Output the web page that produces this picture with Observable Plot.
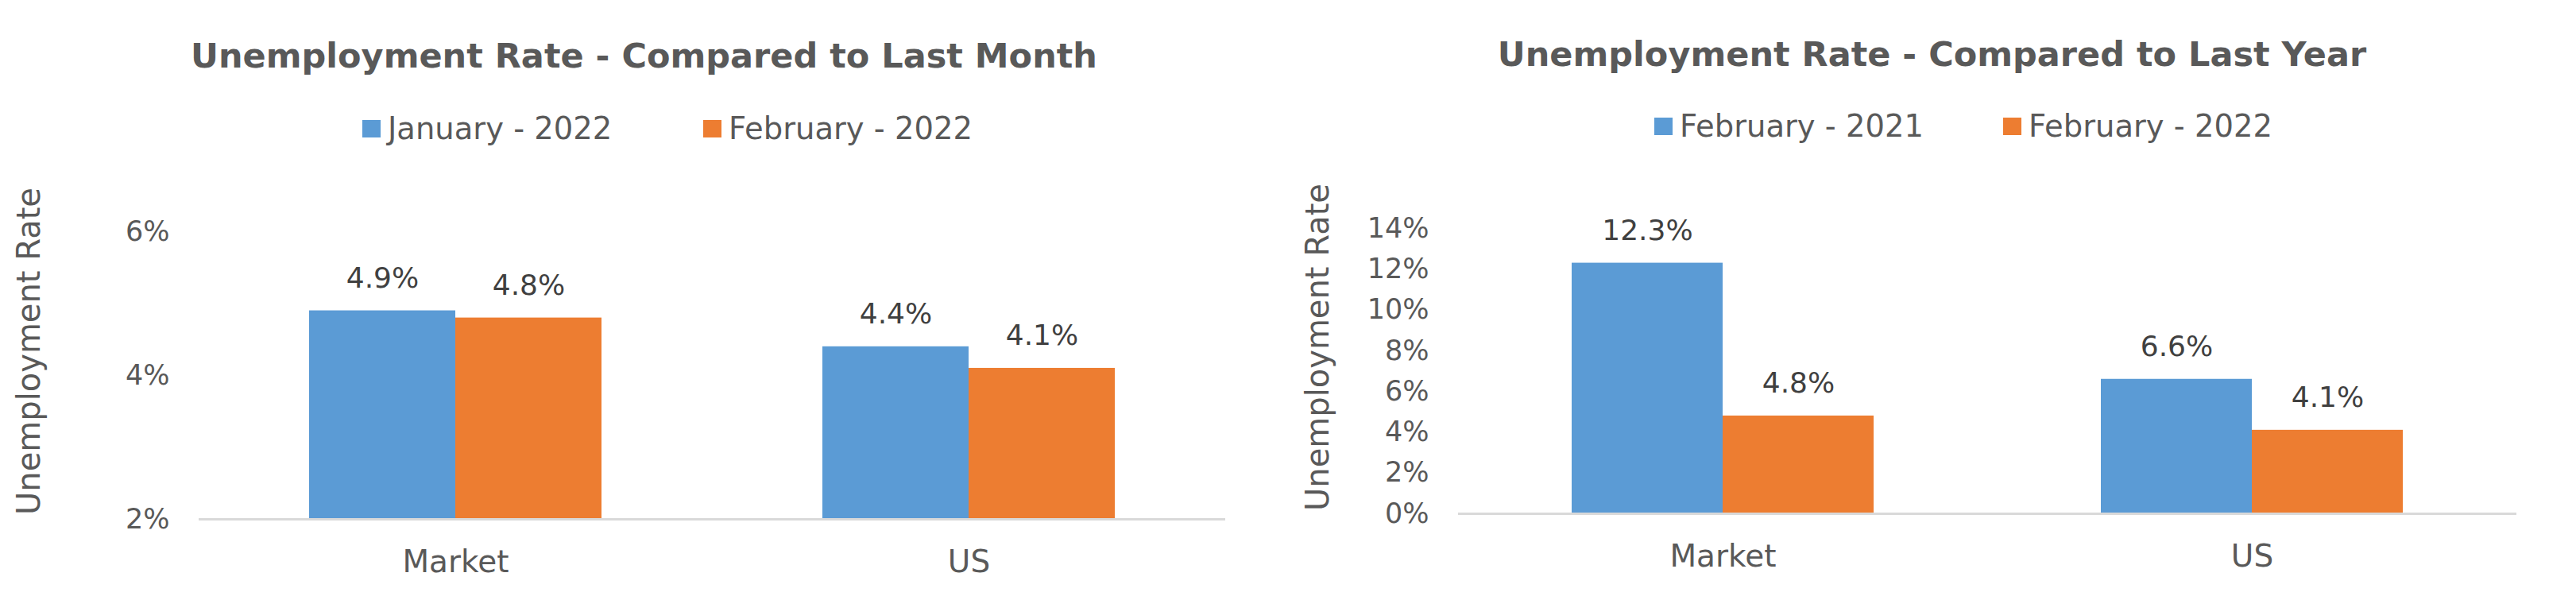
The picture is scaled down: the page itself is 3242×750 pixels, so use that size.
<!DOCTYPE html>
<html><head><meta charset="utf-8">
<script src="https://cdn.jsdelivr.net/npm/d3@7"></script>
<script src="https://cdn.jsdelivr.net/npm/@observablehq/plot@0.6"></script>
<style>
html,body{margin:0;padding:0;background:#fff;}
body{width:3242px;height:750px;position:relative;overflow:hidden;font-family:"DejaVu Sans",sans-serif;color:#595959;}
.panel{position:absolute;top:0;width:1621px;height:750px;}
.title{position:absolute;left:0;width:100%;text-align:center;font-weight:bold;font-size:43px;line-height:43px;white-space:nowrap;}
.item{position:absolute;display:flex;align-items:center;font-size:38.5px;line-height:38px;white-space:nowrap;}
.sw{width:23px;height:22px;margin-right:9px;}
.ytitle{position:absolute;font-size:40px;line-height:40px;white-space:nowrap;transform:translate(-50%,-50%) rotate(-90deg);}
.chart{position:absolute;left:0;top:200px;}
</style>
</head><body>
<script>
// ---- data ----
const categories = ["Market", "US"];
const seriesColors = ["#5B9BD5", "#ED7D31"];

const monthTitle = "Unemployment Rate - Compared to Last Month";
const monthSeries = ["January - 2022", "February - 2022"];
const monthFirst = [4.9, 4.4];
const monthSecond = [4.8, 4.1];
const monthTicks = [2, 4, 6];
const monthDomain = [2, 6];

const yearTitle = "Unemployment Rate - Compared to Last Year";
const yearSeries = ["February - 2021", "February - 2022"];
const yearFirst = [12.3, 6.6];
const yearSecond = [4.8, 4.1];
const yearTicks = [0, 2, 4, 6, 8, 10, 12, 14];
const yearDomain = [0, 14];

const yAxisTitle = "Unemployment Rate";

function pct(v) { return v + "%"; }

function makePanel(cfg) {
  const panel = document.createElement("div");
  panel.className = "panel";
  panel.style.left = cfg.left + "px";
  document.body.appendChild(panel);

  const t = document.createElement("div");
  t.className = "title";
  t.style.top = cfg.titleTop + "px";
  t.textContent = cfg.title;
  panel.appendChild(t);

  cfg.series.forEach((s, j) => {
    const it = document.createElement("div");
    it.className = "item";
    it.style.left = cfg.legendX[j] + "px";
    it.style.top = cfg.legendTop + "px";
    const sw = document.createElement("span");
    sw.className = "sw";
    sw.style.background = seriesColors[j];
    const lb = document.createElement("span");
    lb.textContent = s;
    it.appendChild(sw); it.appendChild(lb);
    panel.appendChild(it);
  });

  const yt = document.createElement("div");
  yt.className = "ytitle";
  yt.style.left = cfg.yTitleX + "px";
  yt.style.top = cfg.yTitleY + "px";
  yt.textContent = yAxisTitle;
  panel.appendChild(yt);

  const rows = [];
  categories.forEach((c, i) => {
    cfg.series.forEach((s, j) => rows.push({category: c, series: s, value: cfg.values[j][i]}));
  });
  const yMin = cfg.domain[0];

  const chart = Plot.plot({
    width: 1621,
    height: 550,
    marginTop: cfg.mt, marginBottom: cfg.mb, marginLeft: cfg.ml, marginRight: cfg.mr,
    style: {fontFamily: '"DejaVu Sans", sans-serif', fontSize: "38px", color: "#595959", background: "transparent"},
    fx: {domain: categories, padding: 0, axis: null, label: null},
    x: {domain: cfg.series, paddingInner: 0, paddingOuter: 0.748, axis: null},
    y: {domain: cfg.domain, axis: null},
    color: {domain: cfg.series, range: seriesColors},
    marks: [
      Plot.barY(rows, {fx: "category", x: "series", y1: yMin, y2: "value", fill: "series"}),
      Plot.ruleY([yMin], {stroke: "#D9D9D9", strokeWidth: 3}),
      Plot.text(rows, {fx: "category", x: "series", y: "value", text: d => d.value.toFixed(1) + "%",
        dy: -29, lineAnchor: "bottom", fontSize: 36, fill: "#404040"}),
      Plot.axisY(cfg.ticks, {tickSize: 0, tickPadding: 37, tickFormat: pct, fontSize: 35,
        color: "#595959", label: null}),
      Plot.axisFx({anchor: "bottom", tickSize: 0, tickPadding: 39, fontSize: 39, color: "#595959", label: null})
    ]
  });
  const wrap = document.createElement("div");
  wrap.className = "chart";
  wrap.appendChild(chart);
  panel.appendChild(wrap);
}

makePanel({left: 0, title: monthTitle, titleTop: 49, series: monthSeries, values: [monthFirst, monthSecond],
  legendX: [456, 885], legendTop: 143, yTitleX: 36, yTitleY: 442,
  ticks: monthTicks, domain: monthDomain, mt: 91, mb: 97, ml: 249, mr: 79});
makePanel({left: 1621, title: yearTitle, titleTop: 47, series: yearSeries, values: [yearFirst, yearSecond],
  legendX: [461, 900], legendTop: 140, yTitleX: 37, yTitleY: 437,
  ticks: yearTicks, domain: yearDomain, mt: 87, mb: 104, ml: 214, mr: 75});
</script>
</body></html>
